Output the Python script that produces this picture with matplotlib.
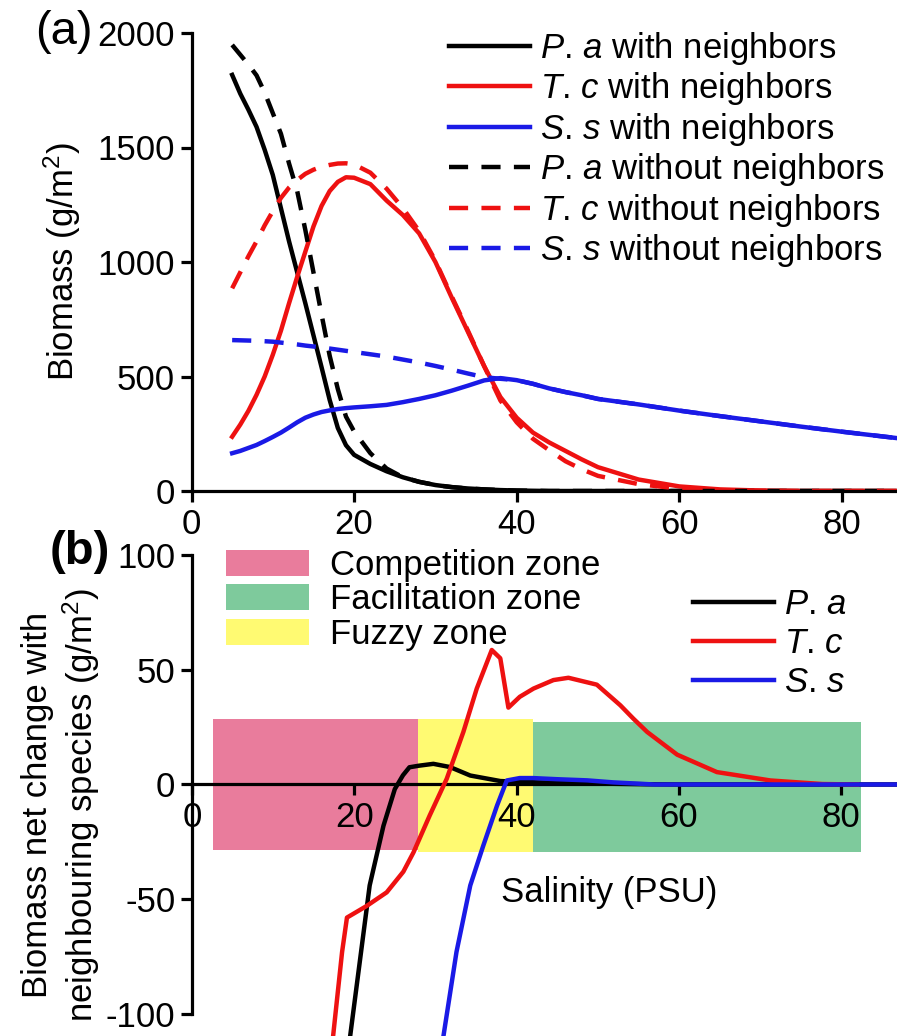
import matplotlib
matplotlib.use("Agg")
import matplotlib.pyplot as plt

plt.rcParams['font.family'] = 'Liberation Sans'
plt.rcParams['mathtext.fontset'] = 'custom'
plt.rcParams['mathtext.rm'] = 'Liberation Sans'
plt.rcParams['mathtext.it'] = 'Liberation Sans:italic'
plt.rcParams['axes.unicode_minus'] = False

# ---- (a) biomass along the salinity gradient ----
salinity = [5, 6, 7, 8, 9, 10, 11, 12, 13, 14, 15, 16, 17, 18, 19, 20,
            22, 24, 26, 28, 30, 32, 34, 36, 38, 40, 42, 44, 46, 48, 50,
            55, 60, 65, 70, 75, 80, 87]

pa_with = [1817, 1735, 1665, 1590, 1490, 1380, 1235, 1090, 955, 820, 680, 540, 397, 275, 200, 158,
           118, 86, 60, 40, 26, 17, 11, 7, 4, 2, 1, 0, 0, 0, 0,
           0, 0, 0, 0, 0, 0, 0]
tc_with = [237, 290, 350, 420, 500, 595, 700, 820, 935, 1045, 1155, 1245, 1310, 1350, 1370, 1368,
           1340, 1268, 1205, 1125, 1000, 845, 695, 545, 410, 320, 255, 212, 175, 138, 104,
           50, 20, 7, 2, 0, 0, 0]
ss_with = [165, 175, 188, 201, 218, 236, 255, 277, 300, 320, 334, 345, 352, 358, 362, 365,
           370, 376, 388, 402, 418, 438, 460, 483, 493, 484, 468, 448, 432, 418, 402,
           378, 351, 327, 304, 281, 259, 230]
pa_without = [1948, 1905, 1862, 1815, 1740, 1650, 1560, 1430, 1310, 1140, 955, 770, 590, 445, 325, 260,
              165, 98, 60, 40, 26, 17, 11, 7, 4, 2, 1, 0, 0, 0, 0,
              0, 0, 0, 0, 0, 0, 0]
tc_without = [885, 955, 1025, 1090, 1160, 1222, 1280, 1325, 1358, 1385, 1403, 1416, 1424, 1430, 1431, 1426,
              1390, 1320, 1235, 1135, 1005, 850, 700, 545, 395, 300, 228, 178, 130, 95, 66,
              30, 10, 3, 1, 0, 0, 0]
ss_without = [659, 658, 657, 656, 654, 652, 648, 644, 640, 635, 631, 627, 622, 617, 612, 607,
              597, 587, 574, 561, 546, 530, 513, 497, 490, 484, 468, 448, 432, 418, 402,
              378, 351, 327, 304, 281, 259, 230]

# ---- (b) net change with neighbouring species ----
pa_x = [18.8, 19.5, 21.9, 23.6, 25.0, 26.0, 26.8, 28.0, 29.75, 31.8, 34.3, 38.0, 40, 44, 48, 52, 56, 60, 87]
pa_net = [-128, -109.5, -44, -18, -2, 4, 7.5, 8.2, 9.0, 7.6, 3.9, 1.5, 1.2, 0.8, 0.5, 0.3, 0.1, 0, 0]

tc_x = [16.9, 17.4, 18.5, 19.1, 21.5, 24.0, 26.05, 27.3, 29.3, 31.4, 33.45, 35.1, 36.95, 38.0, 39.0,
        40.4, 42.1, 44.55, 46.4, 49.9, 52.8, 54.4, 56.1, 59.8, 64.7, 71.3, 77.7, 82.0]
tc_net = [-125, -109.4, -73, -58, -53, -47, -38, -29.6, -13.5, 2.5, 22.9, 41.8, 58.6, 55, 33.5,
          38.2, 41.8, 45.5, 46.5, 43.5, 34.5, 28.7, 22.9, 13.0, 5.4, 1.75, 0.2, 0]

ss_x = [30.4, 31.0, 32.6, 34.3, 35.9, 37.6, 38.8, 40.4, 42.0, 45.0, 48.7, 52.0, 57.0, 87]
ss_net = [-123, -109.5, -73, -44, -26.7, -9.2, 1.75, 2.8, 2.8, 2.3, 1.8, 0.9, 0, 0]

zone_names = ['Competition zone', 'Facilitation zone', 'Fuzzy zone']
zone_left = [2.6, 42.0, 27.9]
zone_right = [27.9, 82.5, 42.0]
zone_low = [-28.6, -29.3, -29.3]
zone_high = [28.7, 27.3, 28.7]
zone_colors = ['#E97C9C', '#7ECA9C', '#FFFA72']

RED = '#EE1111'
BLUE = '#1A1AE6'
W, H = 897, 1036
FS = 25
LW = 3.2

fig = plt.figure(figsize=(W / 100, H / 100), dpi=100)


def style_axis(ax):
    for side in ['top', 'right']:
        ax.spines[side].set_visible(False)
    for side in ['left', 'bottom']:
        ax.spines[side].set_linewidth(2.3)
    ax.tick_params(direction='out', length=8, width=2.3, labelsize=FS, pad=4)


# top panel
ax1 = fig.add_axes([191.5 / W, 545 / H, 705.7 / W, 458 / H])
style_axis(ax1)
ax1.plot(salinity, pa_with, color='black', lw=LW, label=r'$P$. $a$ with neighbors')
ax1.plot(salinity, tc_with, color=RED, lw=LW, label=r'$T$. $c$ with neighbors')
ax1.plot(salinity, ss_with, color=BLUE, lw=LW, label=r'$S$. $s$ with neighbors')
ax1.plot(salinity, pa_without, color='black', lw=LW, dashes=(4.3, 3),
         label=r'$P$. $a$ without neighbors')
ax1.plot(salinity, tc_without, color=RED, lw=LW, dashes=(4.3, 3),
         label=r'$T$. $c$ without neighbors')
ax1.plot(salinity, ss_without, color=BLUE, lw=LW, dashes=(4.3, 3),
         label=r'$S$. $s$ without neighbors')
ax1.set_xlim(0, 86.8)
ax1.set_ylim(0, 2000)
ax1.set_xticks([0, 20, 40, 60, 80])
ax1.set_yticks([0, 500, 1000, 1500, 2000])
ax1.set_ylabel('Biomass (g/m$^2$)', fontsize=FS)
ax1.yaxis.set_label_coords(-0.154, 0.5)
ax1.legend(loc='upper left', bbox_to_anchor=(449 / W, 1 - 30 / H),
           bbox_transform=fig.transFigure, frameon=False, fontsize=FS,
           handlelength=2.33, handletextpad=0.29, labelspacing=0.1,
           borderpad=0, borderaxespad=0)

# bottom panel
ax2 = fig.add_axes([192 / W, 0, 705 / W, 481 / H])
style_axis(ax2)
for name, left, right, low, high, col in zip(zone_names, zone_left, zone_right,
                                             zone_low, zone_high, zone_colors):
    ax2.bar(left, high - low, width=right - left, bottom=low, align='edge',
            color=col, lw=0, zorder=0.5, label=name)
zone_handles, zone_labels = ax2.get_legend_handles_labels()

l1, = ax2.plot(pa_x, pa_net, color='black', lw=LW, zorder=3, label=r'$P$. $a$')
l2, = ax2.plot(tc_x, tc_net, color=RED, lw=LW, zorder=3, label=r'$T$. $c$')
l3, = ax2.plot(ss_x, ss_net, color=BLUE, lw=LW, zorder=3, label=r'$S$. $s$')

ax2.set_xlim(0, 86.9)
ax2.set_ylim(-109.6, 100)
ax2.spines['bottom'].set_position(('data', 0))
ax2.spines['left'].set_bounds(-100, 100)
ax2.set_xticks([0, 20, 40, 60, 80])
ax2.set_yticks([-100, -50, 0, 50, 100])
ax2.set_xlabel('Salinity (PSU)', fontsize=FS)
ax2.xaxis.set_label_coords(0.592, 0.333)
ax2.set_ylabel('Biomass net change with\nneighbouring species (g/m$^2$)',
               fontsize=FS, linespacing=1.2)
ax2.yaxis.set_label_coords(-0.128, 0.48)

zone_leg = ax2.legend(zone_handles, zone_labels, loc='upper left',
                      bbox_to_anchor=(226 / W, 1 - 549 / H), bbox_transform=fig.transFigure,
                      frameon=False, fontsize=FS, handlelength=2.4, handleheight=0.78,
                      handletextpad=0.6, labelspacing=0.04, borderpad=0, borderaxespad=0)
ax2.add_artist(zone_leg)
ax2.legend([l1, l2, l3], [l1.get_label(), l2.get_label(), l3.get_label()],
           loc='upper left', bbox_to_anchor=(693 / W, 1 - 588 / H),
           bbox_transform=fig.transFigure, frameon=False, fontsize=FS,
           handlelength=2.33, handletextpad=0.29, labelspacing=0.17,
           borderpad=0, borderaxespad=0)

fig.text(35 / W, 1 - 32 / H, '(a)', fontsize=34, ha='left', va='center')
fig.text(50 / W, 1 - 552 / H, '(b)', fontsize=34, fontweight='bold', ha='left', va='center')

fig.savefig('out.png', dpi=100)
